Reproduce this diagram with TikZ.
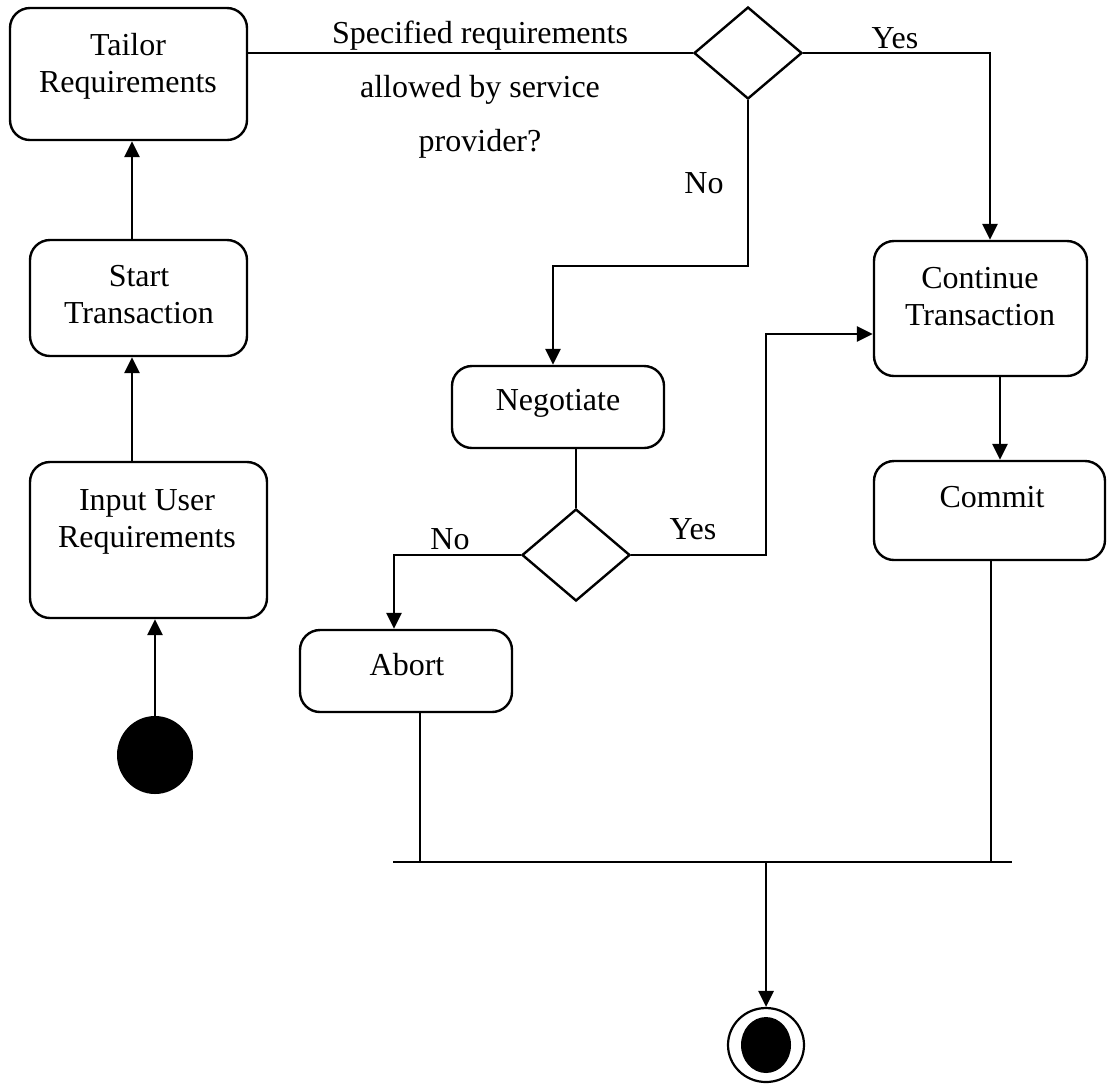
\documentclass[tikz,border=0pt]{standalone}
\usepackage{fontspec}
\setmainfont{Liberation Serif}
\usetikzlibrary{shapes.geometric,arrows.meta,fit}
\begin{document}
\begin{tikzpicture}[x=0.5pt,y=-0.5pt,
  font=\fontsize{16}{18.5}\selectfont,
  flow/.style={line width=1.2pt},
  joinline/.style={line width=0.9pt},
  arrow/.style={line width=1.4pt,-{Triangle[length=8pt,width=7.5pt]}},
  act/.style={draw,line width=1.2pt,rounded corners=10pt,inner sep=0pt},
  caption/.style={anchor=base,align=center,inner sep=0pt},
  decision/.style={draw,diamond,line width=1.2pt,inner sep=0pt,minimum width=54pt,minimum height=46pt},
  dot/.style={ellipse,fill=black,inner sep=0pt},
]
\useasboundingbox (0,0) rectangle (1107,1084);

% activity boxes
\node[act, fit={(10,8) (247,140)}]    (tailor) {};
\node[act, fit={(30,240) (247,356)}]  (start)  {};
\node[act, fit={(30,462) (267,618)}]  (input)  {};
\node[act, fit={(452,366) (664,448)}] (neg)    {};
\node[act, fit={(300,630) (512,712)}] (abort)  {};
\node[act, fit={(874,241) (1087,376)}] (cont)  {};
\node[act, fit={(874,461) (1105,560)}] (commit) {};

% box texts (anchored at the baseline of the last line)
\node[caption] (tailorTxt) at (128,92)  {Tailor\\Requirements};
\node[caption] (startTxt)  at (139,323) {Start\\Transaction};
\node[caption] (inputTxt)  at (147,547) {Input User\\Requirements};
\node[caption] (negTxt)    at (558,410) {Negotiate};
\node[caption] (abortTxt)  at (407,675) {Abort};
\node[caption] (contTxt)   at (980,325) {Continue\\Transaction};
\node[caption] (commitTxt) at (992,507) {Commit};

% decisions
\node[decision] (d1) at (748,53) {};
\node[decision] (d2) at (576,555) {};

% guard text and branch labels
\node[caption, font=\fontsize{16}{27}\selectfont] (question) at (480,151)
  {Specified requirements\\allowed by service\\provider?};
\node[caption] (yes1) at (895,48)  {Yes};
\node[caption] (no1)  at (704,193) {No};
\node[caption] (no2)  at (450,549) {No};
\node[caption] (yes2) at (693,539) {Yes};

% initial and final states
\node[dot, minimum width=38pt, minimum height=39pt] (init) at (155,755) {};
\node[draw, ellipse, line width=1.1pt, inner sep=0pt,
      minimum width=38pt, minimum height=37pt] (final) at (766,1045) {};
\node[dot, minimum width=25pt, minimum height=28pt] (finalDot) at (final) {};

% helper positions for connector columns
\coordinate (colL)    at (132,0);
\coordinate (yesX)    at (990,0);
\coordinate (noTurn)  at (553,266);
\coordinate (abortX)  at (394,0);
\coordinate (yesTurn) at (766,334);
\coordinate (commitX) at (1000,0);
\coordinate (barL)    at (393,862);
\coordinate (barR)    at (1012,862);
\coordinate (joinA)   at (420,0);
\coordinate (joinC)   at (991,0);

% connectors
\draw[arrow] (init.north) -- (init.north |- input.south);
\draw[arrow] (colL |- input.north) -- (colL |- start.south);
\draw[arrow] (colL |- start.north) -- (colL |- tailor.south);
\draw[flow]  (d1.west -| tailor.east) -- (d1.west);
\draw[arrow] (d1.east) -| (yesX |- cont.north);
\draw[arrow] (d1.south) |- (noTurn) -- (noTurn |- neg.north);
\draw[flow]  (d2.north |- neg.south) -- (d2.north);
\draw[arrow] (d2.west) -| (abortX |- abort.north);
\draw[arrow] (d2.east) -| (yesTurn) -- (yesTurn -| cont.west);
\draw[arrow] (commitX |- cont.south) -- (commitX |- commit.north);

% join bar
\draw[flow]  (barL) -- (barR);
\draw[joinline] (joinA |- abort.south) -- (joinA |- barL);
\draw[joinline] (joinC |- commit.south) -- (joinC |- barL);
\draw[arrow] (final.north |- barL) -- (final.north);
\end{tikzpicture}
\end{document}
